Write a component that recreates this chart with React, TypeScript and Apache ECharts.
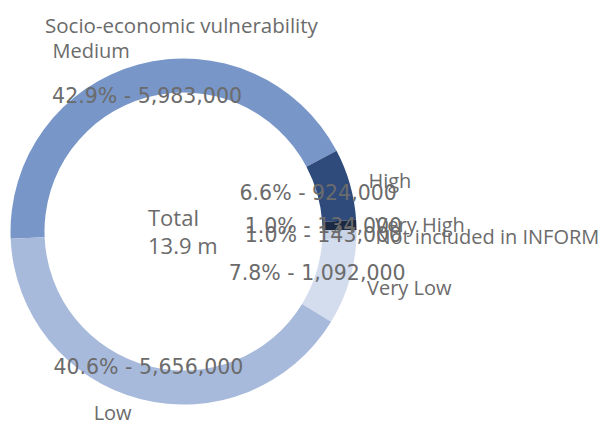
import React, { useEffect, useRef } from "react";
import * as echarts from "echarts";

const title = "Socio-economic vulnerability";
const categories = ["Medium", "High", "Very High", "Not included in INFORM", "Very Low", "Low"];
const populations = [5983000, 924000, 134000, 143000, 1092000, 5656000];
const shares = [42.9, 6.6, 1.0, 1.0, 7.8, 40.6];
const colors = ["#7896c8", "#2f4b7c", "#1b2943", "#c9d3e6", "#d3ddee", "#a8badb"];
const totalLines = ["Total", "13.9 m"];

const FONT = "'Open Sans', 'Noto Sans', sans-serif";
const VALUE_FONT = "'DejaVu Sans', 'Open Sans', sans-serif";
const TEXT = "#6b6b6b";

export default function App() {
  const ref = useRef<HTMLDivElement>(null);
  useEffect(() => {
    if (!ref.current) return;
    const chart = echarts.init(ref.current, undefined, { renderer: "svg" });
    const data = categories.map((name, i) => ({
      name,
      value: populations[i],
      itemStyle: { color: colors[i] },
    }));
    const valueData = categories.map((name, i) => ({
      name,
      value: populations[i],
      label: {
        formatter: `${shares[i].toFixed(1)}% - ${populations[i].toLocaleString("en-US")}`,
      },
    }));
    const center = [183.5, 231.5];
    chart.setOption({
      animation: false,
      title: {
        text: title,
        left: 40,
        top: 9,
        textStyle: { fontSize: 20.5, fontWeight: "normal", color: TEXT, fontFamily: FONT },
      },
      graphic: [
        {
          type: "text",
          x: 148,
          y: 231,
          style: {
            text: totalLines.join("\n"),
            align: "left",
            verticalAlign: "middle",
            fontSize: 22,
            lineHeight: 28,
            fill: TEXT,
            fontFamily: FONT,
          },
        },
      ],
      series: [
        {
          type: "pie",
          center,
          radius: [139, 173],
          startAngle: 182.4,
          clockwise: true,
          avoidLabelOverlap: false,
          minShowLabelAngle: 0,
          silent: true,
          data,
          label: {
            show: true,
            position: "outside",
            formatter: "{b}",
            fontSize: 20,
            color: TEXT,
            fontFamily: FONT,
            overflow: "none",
          },
          labelLine: { show: false, length: 14, length2: 0 },
          labelLayout: { hideOverlap: false },
          emphasis: { disabled: true },
        },
        {
          type: "pie",
          center,
          radius: [122, 152],
          startAngle: 182.4,
          clockwise: true,
          avoidLabelOverlap: false,
          minShowLabelAngle: 0,
          silent: true,
          data: valueData,
          itemStyle: { color: "rgba(0,0,0,0)" },
          label: {
            show: true,
            position: "inside",
            fontSize: 20.5,
            color: TEXT,
            fontFamily: VALUE_FONT,
            overflow: "none",
          },
          labelLine: { show: false },
          labelLayout: { hideOverlap: false },
          emphasis: { disabled: true },
        },
      ],
    });
    return () => chart.dispose();
  }, []);
  return (
    <div
      ref={ref}
      style={{ position: "absolute", left: 0, top: 0, width: 606, height: 423 }}
    />
  );
}
